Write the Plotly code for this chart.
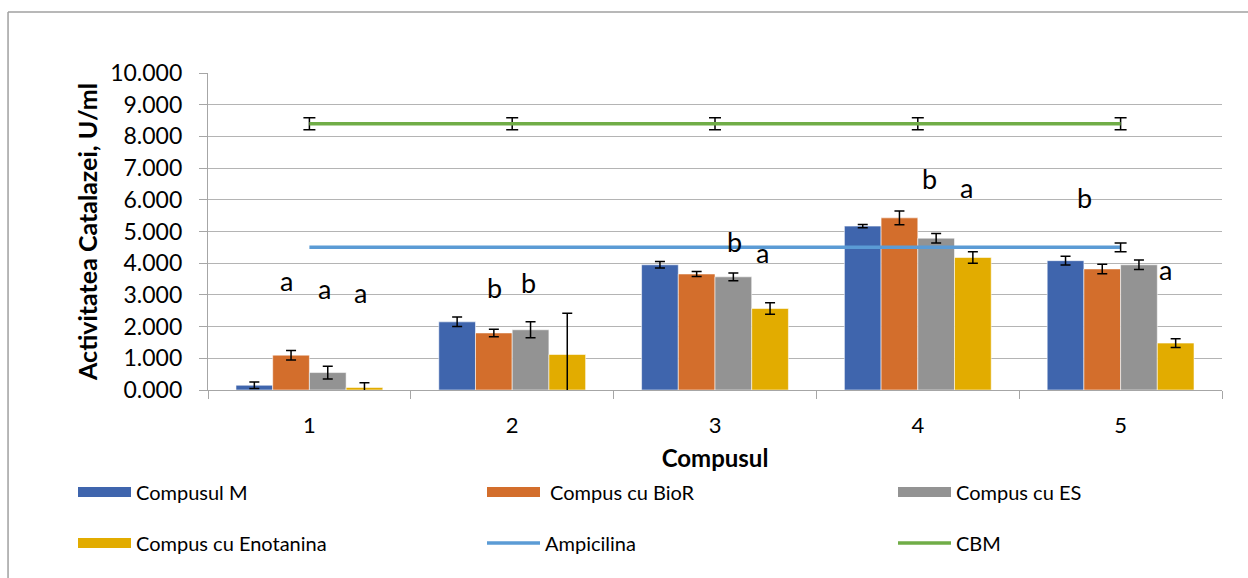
import plotly.graph_objects as go

categories = ["1", "2", "3", "4", "5"]

compusul_m = [0.15, 2.15, 3.95, 5.17, 4.08]
compusul_m_err = [0.10, 0.15, 0.10, 0.05, 0.14]

compus_bior = [1.10, 1.80, 3.66, 5.43, 3.82]
compus_bior_err = [0.15, 0.12, 0.08, 0.22, 0.15]

compus_es = [0.55, 1.90, 3.57, 4.79, 3.95]
compus_es_err = [0.20, 0.25, 0.12, 0.15, 0.15]

compus_enotanina = [0.08, 1.12, 2.57, 4.18, 1.48]
compus_enotanina_err = [0.15, 1.30, 0.18, 0.18, 0.14]

ampicilina = [4.50, 4.50, 4.50, 4.50, 4.50]
# error bar shown only on the last Ampicilina point
ampicilina_err_category = ["5"]
ampicilina_err_value = [4.50]
ampicilina_err = [0.14]

cbm = [8.40, 8.40, 8.40, 8.40, 8.40]
cbm_err = [0.19, 0.19, 0.19, 0.19, 0.19]

y_ticks = [0, 1, 2, 3, 4, 5, 6, 7, 8, 9, 10]
y_tick_labels = ["0.000", "1.000", "2.000", "3.000", "4.000", "5.000",
                 "6.000", "7.000", "8.000", "9.000", "10.000"]

# significance letters: (label, x offset in category units, y value)
letters = ["a", "a", "a", "b", "b", "b", "a", "b", "a", "b", "a"]
letter_x = [-0.113, 0.074, 0.25, 0.911, 1.079, 2.094, 2.232, 3.06, 3.24, 3.82, 4.22]
letter_y = [3.44, 3.19, 3.09, 3.22, 3.38, 4.70, 4.35, 6.66, 6.40, 6.06, 3.79]

FONT = "Lato"
fig = go.Figure()

bar_series = [
    ("Compusul M", compusul_m, compusul_m_err, "#3F65AD", "legend"),
    (" Compus cu BioR", compus_bior, compus_bior_err, "#D36E2C", "legend2"),
    ("Compus cu ES", compus_es, compus_es_err, "#939393", "legend3"),
    ("Compus cu Enotanina", compus_enotanina, compus_enotanina_err, "#E2AC00", "legend4"),
]
for name, vals, err, color, lg in bar_series:
    fig.add_trace(go.Bar(
        x=categories, y=vals, name=name, legend=lg, showlegend=False,
        legendgroup=name,
        marker=dict(color=color, line=dict(color="rgba(255,255,255,0.55)", width=1)),
        error_y=dict(type="data", array=err, visible=True, color="black",
                     thickness=1.5, width=5),
    ))
    # wide rectangular legend swatch like the original (legend-only entry)
    fig.add_trace(go.Scatter(
        x=[None], y=[None], name=name, legend=lg, legendgroup=name,
        mode="lines", line=dict(color=color, width=15), hoverinfo="skip",
    ))

fig.add_trace(go.Scatter(
    x=categories, y=ampicilina, name="Ampicilina", mode="lines", legend="legend5",
    line=dict(color="#5B9BD5", width=3.5),
))
fig.add_trace(go.Scatter(
    x=ampicilina_err_category, y=ampicilina_err_value, name="Ampicilina", mode="lines",
    showlegend=False, line=dict(color="#5B9BD5", width=3.5), hoverinfo="skip",
    error_y=dict(type="data", array=ampicilina_err, visible=True, color="black",
                 thickness=1.5, width=6),
))
fig.add_trace(go.Scatter(
    x=categories, y=cbm, name="CBM", mode="lines", legend="legend6",
    line=dict(color="#70AD47", width=3.5),
    error_y=dict(type="data", array=cbm_err, visible=True, color="black",
                 thickness=1.5, width=6),
))

for t, lx, ly in zip(letters, letter_x, letter_y):
    fig.add_annotation(x=lx, y=ly, xref="x", yref="y", text=t, showarrow=False,
                       font=dict(family=FONT, size=27, color="black"))

# outer chart frame (top-left corner visible)
fig.add_shape(type="line", xref="paper", yref="paper", x0=-0.1972, x1=-0.1972,
              y0=1.1924, y1=-0.7, line=dict(color="#A0A0A0", width=1.5))
fig.add_shape(type="line", xref="paper", yref="paper", x0=-0.1972, x1=1.1,
              y0=1.1924, y1=1.1924, line=dict(color="#A0A0A0", width=1.5))

def legend_at(px, py):
    return dict(
        orientation="h", xref="container", yref="container",
        x=px / 1248, y=1 - py / 578, xanchor="left", yanchor="middle",
        font=dict(family=FONT, size=20, color="black"),
        itemwidth=53, bgcolor="rgba(0,0,0,0)",
    )

fig.update_layout(
    width=1248, height=578,
    margin=dict(l=208, r=26, t=73, b=188, autoexpand=False),
    paper_bgcolor="white", plot_bgcolor="white",
    font=dict(family=FONT, size=21, color="black"),
    barmode="group", bargap=0.276, bargroupgap=0,
    showlegend=True,
    legend=legend_at(73, 492),
    legend2=legend_at(482, 492),
    legend3=legend_at(893, 492),
    legend4=legend_at(73, 543),
    legend5=legend_at(482, 543),
    legend6=legend_at(893, 543),
    xaxis=dict(
        type="category", showgrid=False, showline=True, linecolor="#A6A6A6",
        linewidth=1.2, ticks="outside", tickson="boundaries", ticklen=8,
        tickcolor="#A6A6A6", tickfont=dict(family=FONT, size=22, color="black"),
        ticklabelstandoff=15, automargin=False,
        title=dict(text="<b>Compusul</b>", font=dict(family=FONT, size=24, color="black"),
                   standoff=24),
    ),
    yaxis=dict(
        range=[0, 10], tickvals=y_ticks, ticktext=y_tick_labels,
        showgrid=True, gridcolor="#B4B4B4", gridwidth=1.2,
        showline=True, linecolor="#A6A6A6", linewidth=1.2,
        ticks="outside", ticklen=8, tickcolor="#A6A6A6",
        tickfont=dict(family=FONT, size=23, color="black"),
        ticklabelstandoff=12, automargin=False,
        zeroline=False,
        title=dict(text="<b>Activitatea Catalazei, U/ml</b>",
                   font=dict(family=FONT, size=25, color="black"), standoff=5),
    ),
)

fig.write_html("out.html")
